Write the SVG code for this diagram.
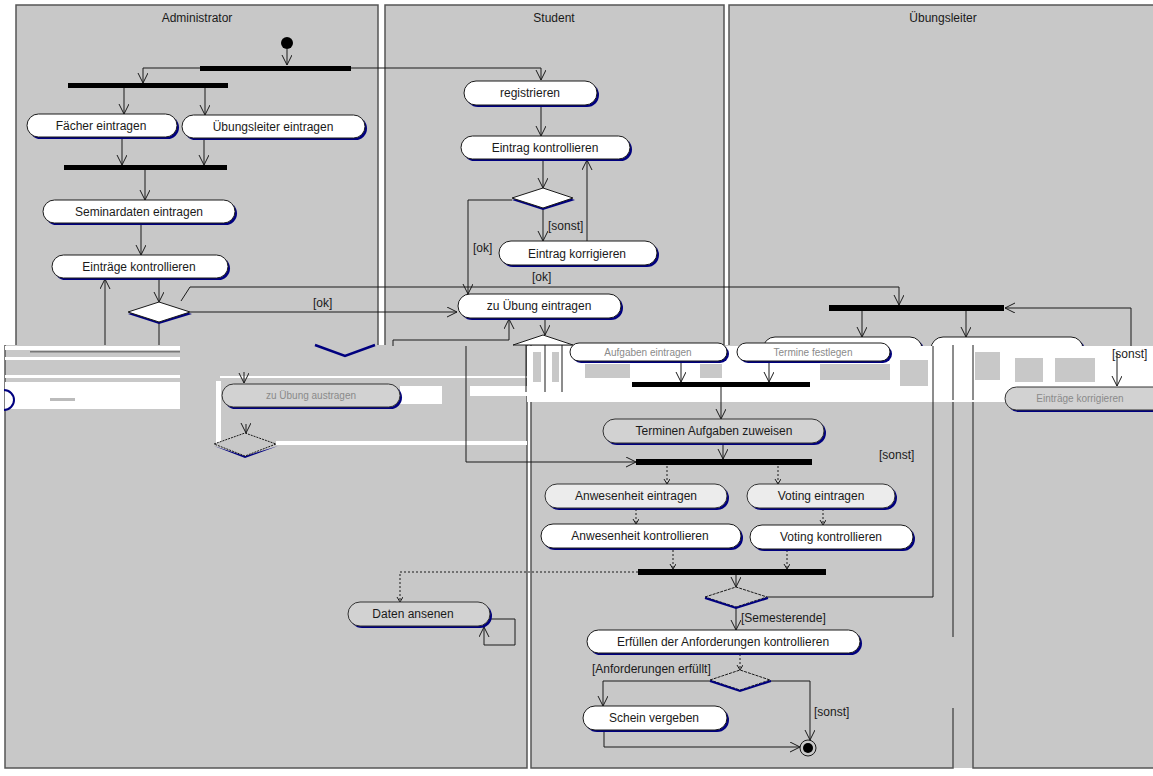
<svg xmlns="http://www.w3.org/2000/svg" width="1153" height="776" viewBox="0 0 1153 776">
<style>
text{font-family:"Liberation Sans",Arial,sans-serif;font-size:12px;fill:#1a1a1a}
.lane{fill:#c8c8c8}
.lb{fill:none;stroke:#555;stroke-width:1.5}
.t{text-anchor:middle}
.c{fill:none;stroke:#1a1a1a;stroke-width:1}
.ca{fill:none;stroke:#1a1a1a;stroke-width:1;marker-end:url(#ah)}
.cd{fill:none;stroke:#1a1a1a;stroke-width:1;stroke-dasharray:2 2;marker-end:url(#ahs)}
.n{fill:#fff;stroke:#1a1a1a;stroke-width:1}
.ng{fill:#d2d2d2;stroke:#333;stroke-width:1}
.nl{fill:#ececec;stroke:#333;stroke-width:1}
.sh{fill:#00007f}
.bar{fill:#000}
.w{fill:#fff}
.gs{fill:#c8c8c8}
.dim{fill:#8a8a8a;font-size:10px}
.shl{fill:none;stroke:#00007f;stroke-width:2}
</style>
<defs>
<marker id="ah" markerUnits="userSpaceOnUse" markerWidth="12" markerHeight="12" refX="10" refY="5" orient="auto"><path d="M0,0 L10,5 L0,10" fill="none" stroke="#1a1a1a" stroke-width="1"/></marker>
<marker id="ahs" markerUnits="userSpaceOnUse" markerWidth="8" markerHeight="8" refX="5" refY="3" orient="auto"><path d="M0,0 L5,3 L0,6" fill="none" stroke="#1a1a1a" stroke-width="1"/></marker>
</defs>
<rect width="1153" height="776" fill="#fff"/>

<g id="lanes">
  <rect class="lane" x="16" y="5" width="362" height="341"/>
  <rect class="lane" x="385" y="5" width="339" height="341"/>
  <rect class="lane" x="729" y="5" width="424" height="341"/>
  <rect class="lane" x="5" y="345" width="522" height="423"/>
  <rect class="lane" x="531" y="345" width="622" height="423"/>
  <path class="lb" d="M16,345 V5 H378 V345"/>
  <path class="lb" d="M385,345 V5 H724 V345"/>
  <path class="lb" d="M729,345 V5 H1153"/>
  <path class="lb" d="M5,345 V768 H527 V345"/>
  <path class="lb" d="M531,345 V768 H953 V708 M953,637 V345"/>
  <path class="lb" d="M973,345 V768 H1153"/>
  <text class="t" x="197" y="22">Administrator</text>
  <text class="t" x="554" y="22">Student</text>
  <text class="t" x="943" y="22">Übungsleiter</text>
</g>

<g id="uebl-top-nodes">
  <rect class="sh" x="765" y="339" width="159" height="24" rx="12"/>
  <rect class="n" x="763" y="337" width="159" height="24" rx="12"/>
  <rect class="sh" x="933" y="339" width="152" height="24" rx="12"/>
  <rect class="n" x="931" y="337" width="152" height="24" rx="12"/>
</g>

<g id="band">
  <rect class="w" x="5" y="346" width="175" height="4"/>
  <rect fill="#777" x="30" y="351" width="150" height="1.5"/>
  <rect class="w" x="5" y="357" width="175" height="3"/>
  <rect class="w" x="5" y="375" width="175" height="3"/>
  <rect class="w" x="5" y="382" width="175" height="27"/>
  <rect fill="#bbb" x="50" y="398" width="25" height="3"/>
  <path class="shl" d="M4,390 A10,10 0 0 1 4,410"/>
  <path d="M315,345 L345,356 L375,345" fill="none" stroke="#00007f" stroke-width="2.5"/>
  <rect class="w" x="220" y="376" width="307" height="2"/>
  <rect class="w" x="216" y="381" width="5" height="62"/>
  <rect class="w" x="400" y="386" width="42" height="18"/>
  <rect class="w" x="470" y="386" width="57" height="10"/>
  <rect class="w" x="276" y="441" width="251" height="4"/>
  <rect class="w" x="527" y="346" width="626" height="56"/>
  <rect class="gs" x="533" y="352" width="8" height="30"/>
  <rect class="gs" x="552" y="352" width="7" height="30"/>
  <rect class="gs" x="585" y="364" width="45" height="14"/>
  <rect class="gs" x="700" y="364" width="22" height="14"/>
  <rect class="gs" x="820" y="364" width="70" height="16"/>
  <rect class="gs" x="900" y="360" width="28" height="26"/>
  <rect class="gs" x="975" y="352" width="25" height="28"/>
  <rect class="gs" x="1015" y="358" width="28" height="24"/>
  <rect class="gs" x="1055" y="358" width="40" height="24"/>
  <rect class="gs" x="1000" y="404" width="153" height="2"/>
  <path class="c" d="M526,345 V392 M545,345 V392 M562,345 V392 M953,345 V400 M973,345 V400" stroke="#777"/>
</g>

<g id="connectors">
  <path class="ca" d="M287,49 V65"/>
  <path class="ca" d="M200,68 H143 V83"/>
  <path class="ca" d="M351,68 H541 V80"/>
  <path class="ca" d="M124,88 V114"/>
  <path class="ca" d="M205,88 V115"/>
  <path class="ca" d="M122,137 V165"/>
  <path class="ca" d="M204,138 V165"/>
  <path class="ca" d="M145,170 V200"/>
  <path class="ca" d="M141,223 V255"/>
  <path class="ca" d="M159,278 V302"/>
  <path class="ca" d="M190,312 H457"/>
  <path class="ca" d="M181,301 L190,287 H899 V305"/>
  <path class="c" d="M159,322 V345"/>
  <path class="ca" d="M105,345 V279"/>
  <path class="ca" d="M541,105 V136"/>
  <path class="ca" d="M543,160 V188"/>
  <path class="ca" d="M512,200 H468 V294"/>
  <path class="ca" d="M543,208 V241"/>
  <path class="ca" d="M587,241 V160"/>
  <path class="ca" d="M393,346 V340 H509 V319"/>
  <path class="ca" d="M545,318 V335"/>
  <path class="ca" d="M862,311 V337"/>
  <path class="ca" d="M966,311 V337"/>
  <path class="ca" d="M1131,346 V308 H1005"/>
  <path class="ca" d="M1117,353 V386"/>
  <path class="ca" d="M244,372 V383"/>
  <path class="ca" d="M246,424 V433"/>
  <path class="ca" d="M466,346 V462 H636"/>
  <path class="ca" d="M681,361 V382"/>
  <path class="ca" d="M769,361 V382"/>
  <path class="ca" d="M721,387 V419"/>
  <path class="ca" d="M723,443 V459"/>
  <path class="cd" d="M667,466 V484"/>
  <path class="cd" d="M778,466 V484"/>
  <path class="cd" d="M636,509 V524"/>
  <path class="cd" d="M823,509 V525"/>
  <path class="cd" d="M673,550 V569"/>
  <path class="cd" d="M787,550 V569"/>
  <path class="cd" d="M638,572 H400 V602"/>
  <path class="ca" d="M736,575 V587"/>
  <path class="c" d="M767,597 H933 V346"/>
  <path class="ca" d="M736,607 V630"/>
  <path class="cd" d="M740,654 V670"/>
  <path class="ca" d="M710,681 H603 V706"/>
  <path class="ca" d="M770,681 H810 V740"/>
  <path class="ca" d="M604,730 V747 H800"/>
  <path class="ca" d="M490,619 H515 V645 H484 V627"/>
  <text x="313" y="307">[ok]</text>
  <text x="473" y="252">[ok]</text>
  <text x="548" y="230">[sonst]</text>
  <text x="532" y="281">[ok]</text>
  <text x="1112" y="358" font-size="11">[sonst]</text>
  <text x="879" y="459">[sonst]</text>
  <text x="741" y="622">[Semesterende]</text>
  <text x="592" y="673">[Anforderungen erfüllt]</text>
  <text x="814" y="716">[sonst]</text>
</g>

<g id="initial"><circle cx="287" cy="43" r="6" fill="#000"/></g>
<g id="fork1"><rect class="bar" x="200" y="66" width="151" height="5"/></g>
<g id="fork2"><rect class="bar" x="68" y="83" width="160" height="5"/></g>
<g id="fork3"><rect class="bar" x="64" y="165" width="163" height="5"/></g>
<g id="fork-uebl"><rect class="bar" x="829" y="305" width="175" height="6"/></g>
<g id="join-band"><rect class="bar" x="632" y="382" width="178" height="5"/></g>
<g id="fork4"><rect class="bar" x="636" y="459" width="176" height="6"/></g>
<g id="join5"><rect class="bar" x="638" y="569" width="188" height="6"/></g>

<g id="n-faecher"><rect class="sh" x="29" y="116" width="150" height="23" rx="11.5"/><rect class="n" x="27" y="114" width="150" height="23" rx="11.5"/><text class="t" x="101" y="130">Fächer eintragen</text></g>
<g id="n-uebl"><rect class="sh" x="184" y="117" width="183" height="23" rx="11.5"/><rect class="n" x="182" y="115" width="183" height="23" rx="11.5"/><text class="t" x="273" y="131">Übungsleiter eintragen</text></g>
<g id="n-seminar"><rect class="sh" x="45" y="202" width="192" height="23" rx="11.5"/><rect class="n" x="43" y="200" width="192" height="23" rx="11.5"/><text class="t" x="139" y="216">Seminardaten eintragen</text></g>
<g id="n-ekontr"><rect class="sh" x="54" y="257" width="176" height="23" rx="11.5"/><rect class="n" x="52" y="255" width="176" height="23" rx="11.5"/><text class="t" x="139" y="271">Einträge kontrollieren</text></g>
<g id="d-admin"><polygon class="sh" points="128,314 159,304 192,314 159,324"/><polygon class="n" points="128,312 159,302 190,312 159,322"/></g>

<g id="n-reg"><rect class="sh" x="466" y="83" width="133" height="24" rx="12"/><rect class="n" x="464" y="81" width="133" height="24" rx="12"/><text class="t" x="530" y="97">registrieren</text></g>
<g id="n-ekon"><rect class="sh" x="463" y="138" width="169" height="23" rx="11.5"/><rect class="n" x="461" y="136" width="169" height="23" rx="11.5"/><text class="t" x="545" y="152">Eintrag kontrollieren</text></g>
<g id="d-student"><polygon class="sh" points="512,200 543,190 575,200 543,210"/><polygon class="n" points="512,198 543,188 573,198 543,208"/></g>
<g id="n-ekor"><rect class="sh" x="501" y="243" width="158" height="24" rx="12"/><rect class="n" x="499" y="241" width="158" height="24" rx="12"/><text class="t" x="577" y="258">Eintrag korrigieren</text></g>
<g id="n-zue"><rect class="sh" x="460" y="296" width="163" height="24" rx="12"/><rect class="n" x="458" y="294" width="163" height="24" rx="12"/><text class="t" x="539" y="310">zu Übung eintragen</text></g>
<g id="d-zue"><polygon points="513,345 543,335 573,345" fill="#fff" stroke="#1a1a1a"/></g>

<g id="n-aufg"><rect class="sh" x="572" y="345" width="157" height="18" rx="9"/><rect class="n" x="570" y="343" width="157" height="18" rx="9" stroke="#fff"/><text class="t dim" x="648" y="356">Aufgaben eintragen</text></g>
<g id="n-term"><rect class="sh" x="739" y="345" width="153" height="18" rx="9"/><rect class="n" x="737" y="343" width="153" height="18" rx="9" stroke="#fff"/><text class="t dim" x="813" y="356">Termine festlegen</text></g>
<g id="n-zua"><rect class="sh" x="224" y="386" width="178" height="23" rx="11.5"/><rect class="ng" x="222" y="384" width="178" height="23" rx="11.5"/><text class="t dim" x="311" y="399">zu Übung austragen</text></g>
<g id="d-band"><polygon class="sh" points="214,446 245,458 278,446 245,456"/><polygon points="214,444 245,433 276,444 245,456" fill="#c8c8c8" stroke="#1a1a1a" stroke-dasharray="2 1"/></g>
<g id="n-ekorr2"><rect class="sh" x="1007" y="389" width="160" height="23" rx="11.5"/><rect class="ng" x="1005" y="387" width="160" height="23" rx="11.5"/><text class="t dim" x="1080" y="402">Einträge korrigieren</text></g>

<g id="n-tz"><rect class="sh" x="605" y="421" width="221" height="24" rx="12"/><rect class="ng" x="603" y="419" width="221" height="24" rx="12"/><text class="t" x="714" y="435">Terminen Aufgaben zuweisen</text></g>
<g id="n-ane"><rect class="sh" x="547" y="486" width="182" height="24" rx="12"/><rect class="nl" x="545" y="484" width="182" height="24" rx="12"/><text class="t" x="636" y="500">Anwesenheit eintragen</text></g>
<g id="n-ve"><rect class="sh" x="749" y="486" width="148" height="24" rx="12"/><rect class="nl" x="747" y="484" width="148" height="24" rx="12"/><text class="t" x="821" y="500">Voting eintragen</text></g>
<g id="n-ank"><rect class="sh" x="543" y="526" width="200" height="24" rx="12"/><rect class="n" x="541" y="524" width="200" height="24" rx="12"/><text class="t" x="640" y="540">Anwesenheit kontrollieren</text></g>
<g id="n-vk"><rect class="sh" x="752" y="527" width="163" height="24" rx="12"/><rect class="n" x="750" y="525" width="163" height="24" rx="12"/><text class="t" x="831" y="541">Voting kontrollieren</text></g>
<g id="d-low1"><polygon points="705,597 736,587 767,597 736,607" fill="#c8c8c8" stroke="#1a1a1a" stroke-dasharray="3 1"/><path d="M705,598 L736,608 L768,598" class="shl"/></g>
<g id="n-da"><rect class="sh" x="350" y="604" width="142" height="24" rx="12"/><rect class="ng" x="348" y="602" width="142" height="24" rx="12"/><text class="t" x="413" y="618">Daten ansenen</text></g>
<g id="n-erf"><rect class="sh" x="589" y="632" width="273" height="23" rx="11.5"/><rect class="n" x="587" y="630" width="273" height="23" rx="11.5"/><text class="t" x="723" y="646" fill="#555">Erfüllen der Anforderungen kontrollieren</text></g>
<g id="d-low2"><polygon points="710,680 740,670 770,680 740,690" fill="#c8c8c8" stroke="#1a1a1a" stroke-dasharray="3 1"/><path d="M710,681 L740,691 L771,681" class="shl"/></g>
<g id="n-sch"><rect class="sh" x="585" y="708" width="144" height="24" rx="12"/><rect class="n" x="583" y="706" width="144" height="24" rx="12"/><text class="t" x="654" y="722" fill="#555">Schein vergeben</text></g>
<g id="final"><circle cx="808" cy="748" r="8" fill="#c8c8c8" stroke="#1a1a1a"/><circle cx="808" cy="748" r="5" fill="#000"/></g>
</svg>
